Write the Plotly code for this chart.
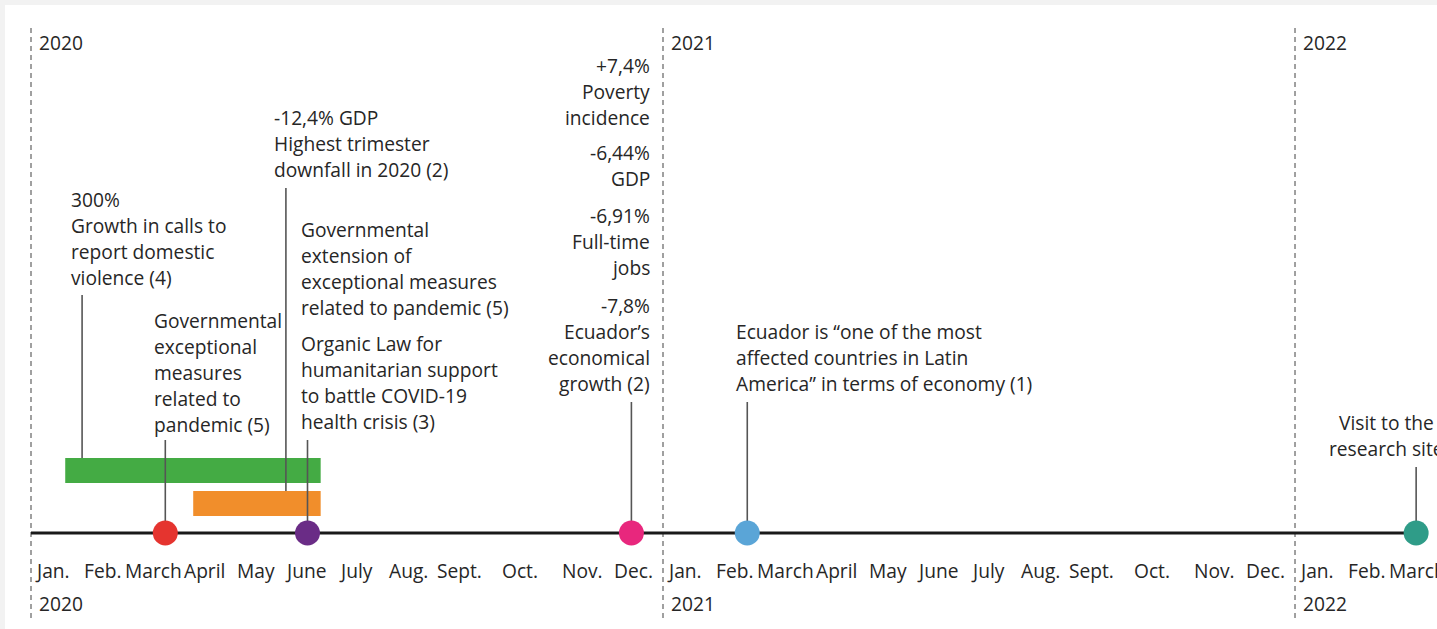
import plotly.graph_objects as go

# ---------------- data ----------------
years = ["2020", "2021", "2022"]
year_start_month = [0, 12, 24]          # month index of each January
month_labels = ["Jan.", "Feb.", "March", "April", "May", "June",
                "July", "Aug.", "Sept.", "Oct.", "Nov.", "Dec."]
last_month_index = 26                   # March 2022

# point events (month index since Jan 2020, fractional)
event_names = ["Governmental exceptional measures", "Organic Law", "Ecuador economy 2020",
               "Most affected countries", "Visit to research site"]
event_month = [2.55, 5.25, 11.4, 13.6, 26.3]
event_colors = ["#e5342f", "#6a2c86", "#e8277d", "#5aa5d7", "#2f9c88"]

# periods (bars)
period_names = ["Growth in calls to report domestic violence", "Extension of exceptional measures"]
period_start = [0.65, 3.08]
period_end = [5.5, 5.5]
period_colors = ["#44ab44", "#f18e2b"]

# extra connector positions (month index)
violence_month = 0.97
gdp_trimester_month = 4.84

# ---------------- layout helpers ----------------
W, H = 1437, 629
X0PX, PX_PER_MONTH = 31, 52.667
def m(px):
    return (px - X0PX) / PX_PER_MONTH

month_label_offset = [0.4, 1.35, 2.32, 3.3, 4.27, 5.22, 6.18, 7.17, 8.13, 9.29, 10.47, 11.44]

FONT = "Open Sans"
FS = 19.2
TXT = "#262626"
LINE = 26
AXIS_Y = 533

fig = go.Figure()

# connector lines (behind bars)
conn_x, conn_y = [], []
conn_tops = [440, 440, 402, 402, 467]
for xm, top in zip(event_month, conn_tops):
    conn_x += [xm, xm, None]
    conn_y += [top, AXIS_Y, None]
conn_x += [violence_month, violence_month, None, gdp_trimester_month, gdp_trimester_month, None]
conn_y += [295, 458, None, 188, 491, None]
fig.add_trace(go.Scatter(x=conn_x, y=conn_y, mode="lines",
                         line=dict(color="#555555", width=1.6), hoverinfo="skip"))

# period bars
bar_y = [470.5, 503.5]
for nm, s, e, c, yy in zip(period_names, period_start, period_end, period_colors, bar_y):
    fig.add_trace(go.Bar(x=[e - s], base=[s], y=[yy], width=25, orientation="h",
                         marker=dict(color=c, line=dict(width=0)), name=nm, hoverinfo="skip"))

# timeline axis line
fig.add_trace(go.Scatter(x=[0, event_month[-1]], y=[AXIS_Y, AXIS_Y], mode="lines",
                         line=dict(color="#1a1a1a", width=3.2), hoverinfo="skip"))

# event dots
fig.add_trace(go.Scatter(x=event_month, y=[AXIS_Y] * len(event_month), mode="markers",
                         marker=dict(size=25, color=event_colors, line=dict(width=0)),
                         text=event_names, hoverinfo="text"))

shapes = []
# white panel
shapes.append(dict(type="rect", xref="paper", yref="paper", x0=5 / W, x1=1, y0=0, y1=1 - 5 / H,
                   fillcolor="white", line=dict(width=0), layer="below"))
# year dashed lines
for ys in year_start_month:
    shapes.append(dict(type="line", xref="x", yref="y", x0=ys, x1=ys, y0=28, y1=622,
                       line=dict(color="#6e6e6e", width=1.3, dash="5px,4px"), layer="below"))

annotations = []
def txt(text, x, y, xanchor="left"):
    annotations.append(dict(text=text, x=x, y=y, xref="x", yref="y", showarrow=False,
                            xanchor=xanchor, yanchor="middle",
                            font=dict(family=FONT, size=FS, color=TXT)))

def block(lines, x, y0, xanchor="left"):
    for i, ln in enumerate(lines):
        txt(ln, x, y0 + i * LINE, xanchor)

# year labels
for yl, ys in zip(years, year_start_month):
    txt(yl, ys + m(37), 42)
    txt(yl, ys + m(37), 603)

# month labels
for ys in year_start_month:
    for i, ml in enumerate(month_labels):
        if ys + i > last_month_index:
            break
        txt(ml, ys + month_label_offset[i], 570, "center")

# annotation blocks
block(["300%", "Growth in calls to", "report domestic", "violence (4)"], m(69), 199)
block(["-12,4% GDP", "Highest trimester", "downfall in 2020 (2)"], m(272), 117)
block(["Governmental", "extension of", "exceptional measures", "related to pandemic (5)"], m(299), 229)
block(["Organic Law for", "humanitarian support", "to battle COVID-19", "health crisis (3)"], m(299), 343)
block(["Governmental", "exceptional", "measures", "related to", "pandemic (5)"], m(152), 320)
block(["+7,4%", "Poverty", "incidence"], m(652), 65, "right")
block(["-6,44%", "GDP"], m(652), 152, "right")
block(["-6,91%", "Full-time", "jobs"], m(652), 215, "right")
block(["-7,8%", "Ecuador’s", "economical", "growth (2)"], m(652), 305, "right")
block(["Ecuador is “one of the most", "affected countries in Latin",
       "America” in terms of economy (1)"], m(734), 331)
block(["Visit to the", "research site"], m(1386), 422, "center")

fig.update_layout(
    width=W, height=H,
    margin=dict(l=0, r=0, t=0, b=0),
    paper_bgcolor="#f2f2f2", plot_bgcolor="rgba(0,0,0,0)",
    showlegend=False, barmode="overlay",
    xaxis=dict(range=[m(0), m(W)], visible=False, fixedrange=True),
    yaxis=dict(range=[H, 0], visible=False, fixedrange=True),
    shapes=shapes, annotations=annotations,
)

fig.write_html("out.html", config={"displayModeBar": False},
               post_script="document.body.style.margin='0';document.body.style.overflow='hidden';")
